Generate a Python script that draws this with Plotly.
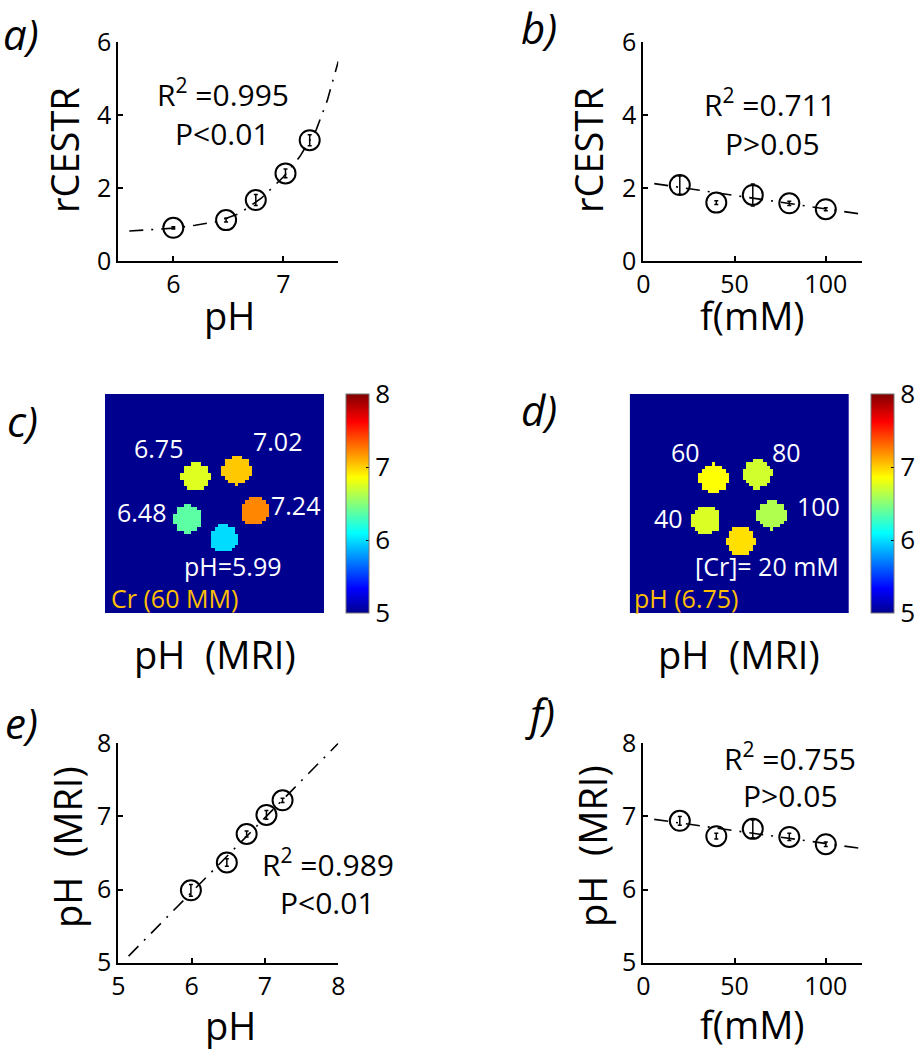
import numpy as np
import plotly.graph_objects as go

# ---------------- data ----------------
# panel a: rCESTR vs pH
a_ph = [6.0, 6.48, 6.75, 7.02, 7.24]
a_rcestr = [0.91, 1.12, 1.67, 2.40, 3.31]
a_err = [0.03, 0.05, 0.15, 0.12, 0.15]
a_fit_x = [5.6, 5.8, 6.0, 6.2, 6.4, 6.6, 6.8, 7.0, 7.15, 7.3, 7.4, 7.5]
a_fit_y = [0.82, 0.85, 0.90, 0.98, 1.08, 1.30, 1.72, 2.30, 2.86, 3.60, 4.40, 5.47]

# panel b: rCESTR vs concentration
b_conc = [20, 40, 60, 80, 100]
b_rcestr = [2.08, 1.60, 1.81, 1.58, 1.42]
b_err = [0.25, 0.05, 0.30, 0.06, 0.04]
b_fit_x = [6, 120]
b_fit_y = [2.12, 1.28]

# panel c: pH map (Cr 60 mM), tube centres in image-grid cells and mapped pH values
c_cols = [26.0, 38.0, 23.7, 43.3, 34.2]
c_rows = [23.7, 21.9, 36.0, 33.6, 41.8]
c_vals = [6.76, 7.02, 6.37, 7.22, 5.99]
c_labels = ["6.75", "7.02", "6.48", "7.24", "pH=5.99"]

# panel d: pH map (pH 6.75), concentrations 60, 80, 40, 100, 20 mM
d_cols = [24.0, 36.9, 21.8, 41.0, 32.0]
d_rows = [24.2, 22.9, 36.3, 34.9, 42.4]
d_vals = [6.85, 6.72, 6.75, 6.62, 6.95]
d_labels = ["60", "80", "40", "100", "[Cr]= 20 mM"]

# panel e: pH(MRI) vs pH
e_ph = [5.99, 6.48, 6.75, 7.02, 7.24]
e_mri = [5.99, 6.37, 6.76, 7.02, 7.22]
e_err = [0.08, 0.05, 0.04, 0.06, 0.03]
e_fit_x = [5.14, 8.0]
e_fit_y = [5.09, 8.0]

# panel f: pH(MRI) vs concentration
f_conc = [20, 40, 60, 80, 100]
f_mri = [6.94, 6.73, 6.83, 6.72, 6.62]
f_err = [0.06, 0.04, 0.12, 0.05, 0.03]
f_fit_x = [6, 120]
f_fit_y = [6.96, 6.56]

GRID = 64
BG = 5.0
RAD = 4.2

# ---------------- helpers ----------------
W, H = 921, 1050
FONT = "Open Sans"


def xd(l, r):
    return [l / W, r / W]


def yd(t, b):
    return [1 - b / H, 1 - t / H]


def phantom(cols, rows, vals):
    yy, xx = np.mgrid[0:GRID, 0:GRID]
    z = np.full((GRID, GRID), BG)
    for cx, cy, v in zip(cols, rows, vals):
        m = (xx - cx) ** 2 + (yy - cy) ** 2 <= RAD ** 2
        z[m] = v
    return z


jet = [
    [0.0, "rgb(0,0,143)"],
    [0.111, "rgb(0,0,255)"],
    [0.365, "rgb(0,255,255)"],
    [0.619, "rgb(255,255,0)"],
    [0.873, "rgb(255,0,0)"],
    [1.0, "rgb(128,0,0)"],
]

fig = go.Figure()

DASH = "14px,8px,2px,8px"


def add_scatter(x, y, err, fx, fy, ax):
    fig.add_trace(go.Scatter(
        x=fx, y=fy, mode="lines", line=dict(color="black", width=1.6, dash=DASH),
        xaxis="x" + ax, yaxis="y" + ax, showlegend=False, hoverinfo="skip"))
    fig.add_trace(go.Scatter(
        x=x, y=y, mode="markers",
        marker=dict(symbol="circle-open", size=20, color="black", line=dict(width=2, color="black")),
        error_y=dict(type="data", array=err, visible=True, color="black", thickness=1.5, width=2),
        xaxis="x" + ax, yaxis="y" + ax, showlegend=False))


add_scatter(a_ph, a_rcestr, a_err, a_fit_x, a_fit_y, "")
add_scatter(b_conc, b_rcestr, b_err, b_fit_x, b_fit_y, "2")
add_scatter(e_ph, e_mri, e_err, e_fit_x, e_fit_y, "5")
add_scatter(f_conc, f_mri, f_err, f_fit_x, f_fit_y, "6")

fig.add_trace(go.Heatmap(z=phantom(c_cols, c_rows, c_vals), coloraxis="coloraxis",
                         xaxis="x3", yaxis="y3", hoverinfo="skip"))
fig.add_trace(go.Heatmap(z=phantom(d_cols, d_rows, d_vals), coloraxis="coloraxis2",
                         xaxis="x4", yaxis="y4", hoverinfo="skip"))

# ---------------- axes ----------------
def sc_axis(domain, rng, tickvals, anchor):
    return dict(domain=domain, range=rng, tickvals=tickvals, ticks="inside", ticklen=5,
                tickwidth=1.5, tickcolor="black", showline=True, linecolor="black", linewidth=2,
                showgrid=False, zeroline=False, anchor=anchor, automargin=False,
                tickfont=dict(family=FONT, size=25, color="black"))


def im_axis(domain, rng, anchor):
    return dict(domain=domain, range=rng, visible=False, showgrid=False, zeroline=False,
                anchor=anchor, automargin=False)


layout = dict(
    width=W, height=H, margin=dict(l=0, r=0, t=0, b=0, pad=0, autoexpand=False),
    paper_bgcolor="white", plot_bgcolor="white",
    font=dict(family=FONT, color="black"),
    xaxis=sc_axis(xd(118.3, 338.3), [5.5, 7.5], [6, 7], "y"),
    yaxis=sc_axis(yd(42, 261), [0, 6], [0, 2, 4, 6], "x"),
    xaxis2=sc_axis(xd(643.3, 862.3), [0, 120], [0, 50, 100], "y2"),
    yaxis2=sc_axis(yd(42, 261), [0, 6], [0, 2, 4, 6], "x2"),
    xaxis3=im_axis(xd(105, 324), [-0.5, GRID - 0.5], "y3"),
    yaxis3=im_axis(yd(394, 613), [GRID - 0.5, -0.5], "x3"),
    xaxis4=im_axis(xd(629.7, 849), [-0.5, GRID - 0.5], "y4"),
    yaxis4=im_axis(yd(394, 613), [GRID - 0.5, -0.5], "x4"),
    xaxis5=sc_axis(xd(118.3, 338.3), [5, 8], [5, 6, 7, 8], "y5"),
    yaxis5=sc_axis(yd(743.3, 962.7), [5, 8], [5, 6, 7, 8], "x5"),
    xaxis6=sc_axis(xd(643.3, 862.3), [0, 120], [0, 50, 100], "y6"),
    yaxis6=sc_axis(yd(743.3, 962.7), [5, 8], [5, 6, 7, 8], "x6"),
)


def cbar(xpx):
    return dict(x=xpx / W, xanchor="left", y=1 - 503.5 / H, yanchor="middle",
                len=219 / H, lenmode="fraction", thickness=23, thicknessmode="pixels",
                tickvals=[5, 6, 7, 8], ticks="inside", ticklen=3, tickcolor="black",
                outlinewidth=1, outlinecolor="#777", xpad=0, ypad=0,
                tickfont=dict(family=FONT, size=26, color="black"))


layout["coloraxis"] = dict(cmin=5, cmax=8, colorscale=jet, colorbar=cbar(346))
layout["coloraxis2"] = dict(cmin=5, cmax=8, colorscale=jet, colorbar=cbar(870.7))

fig.update_layout(**layout)

# ---------------- annotations ----------------
ann = []


def ptxt(text, xpx, ypx, size, angle=0, italic=False, color="black", xanchor="center"):
    ann.append(dict(text=text, x=xpx / W, y=1 - ypx / H, xref="paper", yref="paper",
                    showarrow=False, textangle=angle, xanchor=xanchor, yanchor="middle",
                    font=dict(family=FONT, size=size, color=color,
                              style="italic" if italic else "normal")))


# panel letters
for t, x, y in [("a)", 21, 33), ("b)", 539, 28), ("c)", 22, 420),
                ("d)", 539, 409), ("e)", 21, 722), ("f)", 540, 713)]:
    ptxt(t, x, y, 42, italic=True)

# axis titles
TS = 38
ptxt("rCESTR", 64, 150, TS, angle=-90)
ptxt("pH", 229, 315, TS)
ptxt("rCESTR", 588, 150, TS, angle=-90)
ptxt("f(mM)", 752, 315, TS)
ptxt("pH  (MRI)", 215, 654, TS)
ptxt("pH  (MRI)", 739, 654, TS)
ptxt("pH  (MRI)", 67, 847, TS, angle=-90)
ptxt("pH", 230, 1025, TS)
ptxt("pH  (MRI)", 592, 846, TS, angle=-90)
ptxt("f(mM)", 752, 1024, TS)

# statistics
ptxt("R<sup>2</sup> =0.995", 223, 93, 30)
ptxt("P&lt;0.01", 222, 133, 30)
ptxt("R<sup>2</sup> =0.711", 770, 103, 30)
ptxt("P&gt;0.05", 772, 143, 30)
ptxt("R<sup>2</sup> =0.989", 328, 863, 30)
ptxt("P&lt;0.01", 327, 902, 30)
ptxt("R<sup>2</sup> =0.755", 790, 757, 30)
ptxt("P&gt;0.05", 790, 795, 30)


def itxt(text, gx, gy, ax, color="white", xanchor="center"):
    ann.append(dict(text=text, x=gx, y=gy, xref="x" + ax, yref="y" + ax, showarrow=False,
                    xanchor=xanchor, yanchor="middle",
                    font=dict(family=FONT, size=25, color=color)))


c_lab_pos = [(15.0, 15.3), (49.8, 13.2), (10.3, 34.0), (55.3, 32.0), (36.9, 49.8)]
for t, (gx, gy) in zip(c_labels, c_lab_pos):
    itxt(t, gx, gy, "3")
itxt("Cr (60 MM)", 0.7, 59.1, "3", color="rgb(255,190,0)", xanchor="left")

d_lab_pos = [(15.7, 16.4), (45.2, 16.4), (10.8, 35.8), (54.6, 32.2), (39.6, 49.7)]
for t, (gx, gy) in zip(d_labels, d_lab_pos):
    itxt(t, gx, gy, "4")
itxt("pH (6.75)", 0.3, 59.1, "4", color="rgb(255,190,0)", xanchor="left")

fig.update_layout(annotations=ann)

fig.write_html(
    "out.html",
    config={"displayModeBar": False},
    post_script="document.body.style.margin='0px';document.body.style.padding='0px';"
                "document.documentElement.style.overflow='hidden';",
)
